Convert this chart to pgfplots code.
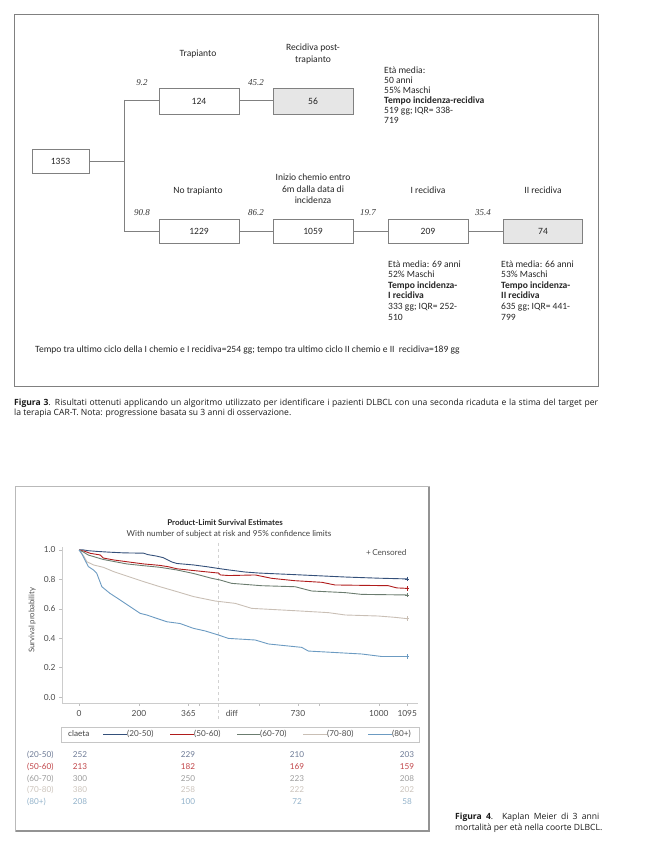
\documentclass[border=0pt]{standalone}
\usepackage{pgfplots}
\pgfplotsset{compat=1.18}
\usepackage{fontspec}
\setmainfont{Carlito}
\newfontfamily\kmf{Lato}
\newfontfamily\capf{Open Sans}
\newfontfamily\serf{Liberation Serif}

\definecolor{cA}{HTML}{34507A}
\definecolor{cB}{HTML}{B01C1C}
\definecolor{cC}{HTML}{6B7C6F}
\definecolor{cD}{HTML}{C9BFB5}
\definecolor{cE}{HTML}{6C9BC2}
\definecolor{tA}{HTML}{6E7B96}
\definecolor{tB}{HTML}{C04448}
\definecolor{tC}{HTML}{9C9C9C}
\definecolor{tD}{HTML}{CCC4BC}
\definecolor{tE}{HTML}{92B2CA}
\definecolor{boxgray}{HTML}{E6E6E6}
\definecolor{edge}{HTML}{808080}

\tikzset{
  bx/.style={draw=edge, line width=0.7bp},
  fc/.style={font=\fontsize{9.6}{11}\selectfont, inner sep=0pt, text=black!85},
  pc/.style={font=\serf\itshape\fontsize{9}{11}\selectfont, inner sep=0pt, text=black!80},
  km/.style={font=\kmf\fontsize{8.2}{10}\selectfont, inner sep=0pt},
  cp/.style={anchor=mid west, inner sep=0pt, font=\capf\fontsize{8.6}{10}\selectfont, text=black!90},
}

\begin{document}
\begin{tikzpicture}[x=1bp,y=1bp]
\path[use as bounding box] (0,0) rectangle (645,857);

\begin{scope}[yshift=857bp, y=-1bp]
% ---- Figura 3: flowchart ----
\draw[edge, line width=0.7bp] (14,14) rectangle (598,386);

\draw[edge, line width=0.7bp] (89,161) -- (124,161);
\draw[edge, line width=0.7bp] (124,100) -- (124,231);
\draw[edge, line width=0.7bp] (124,100) -- (159,100);
\draw[edge, line width=0.7bp] (124,231) -- (159,231);
\draw[edge, line width=0.7bp] (239,100) -- (273,100);
\draw[edge, line width=0.7bp] (239,231) -- (273,231);
\draw[edge, line width=0.7bp] (353,231) -- (388,231);
\draw[edge, line width=0.7bp] (468,231) -- (503,231);

\draw[bx] (32,149) rectangle (89,173);   \node[fc] at (60.5,161) {1353};
\draw[bx] (159,88) rectangle (239,114);  \node[fc] at (199,101) {124};
\draw[bx, fill=boxgray] (273,88) rectangle (353,114); \node[fc] at (313,101) {56};
\draw[bx] (159,219) rectangle (239,243); \node[fc] at (199,231) {1229};
\draw[bx] (273,219) rectangle (353,243); \node[fc] at (313,231) {1059};
\draw[bx] (388,219) rectangle (468,243); \node[fc] at (428,231) {209};
\draw[bx, fill=boxgray] (503,219) rectangle (582,243); \node[fc] at (543,231) {74};

\node[fc, anchor=mid] at (198,54) {Trapianto};
\node[fc, anchor=mid] at (313,48) {Recidiva post-};
\node[fc, anchor=mid] at (313,60) {trapianto};
\node[fc, anchor=mid] at (198,191) {No trapianto};
\node[fc, anchor=mid] at (313,178) {Inizio chemio entro};
\node[fc, anchor=mid] at (313,190) {6m dalla data di};
\node[fc, anchor=mid] at (313,201) {incidenza};
\node[fc, anchor=mid] at (428,191) {I recidiva};
\node[fc, anchor=mid] at (543,191) {II recidiva};

\node[pc, anchor=mid] at (142,83) {9.2};
\node[pc, anchor=mid] at (256,83) {45.2};
\node[pc, anchor=mid] at (142,213) {90.8};
\node[pc, anchor=mid] at (256,213) {86.2};
\node[pc, anchor=mid] at (368,213) {19.7};
\node[pc, anchor=mid] at (483,213) {35.4};

\node[fc, anchor=mid west] at (384,71) {Età media:};
\node[fc, anchor=mid west] at (384,81) {50 anni};
\node[fc, anchor=mid west] at (384,91) {55\% Maschi};
\node[fc, anchor=mid west] at (384,101) {\textbf{Tempo incidenza-recidiva}};
\node[fc, anchor=mid west] at (384,111) {519 gg; IQR= 338-};
\node[fc, anchor=mid west] at (384,121) {719};

\node[fc, anchor=mid west] at (388,265) {Età media: 69 anni};
\node[fc, anchor=mid west] at (388,275) {52\% Maschi};
\node[fc, anchor=mid west] at (388,286) {\textbf{Tempo incidenza-}};
\node[fc, anchor=mid west] at (388,296) {\textbf{I recidiva}};
\node[fc, anchor=mid west] at (388,307) {333 gg; IQR= 252-};
\node[fc, anchor=mid west] at (388,318) {510};

\node[fc, anchor=mid west] at (501,265) {Età media: 66 anni};
\node[fc, anchor=mid west] at (501,275) {53\% Maschi};
\node[fc, anchor=mid west] at (501,286) {\textbf{Tempo incidenza-}};
\node[fc, anchor=mid west] at (501,296) {\textbf{II recidiva}};
\node[fc, anchor=mid west] at (501,307) {635 gg; IQR= 441-};
\node[fc, anchor=mid west] at (501,318) {799};

\node[fc, anchor=mid west] at (35,350) {Tempo tra ultimo ciclo della I chemio e I recidiva=254 gg; tempo tra ultimo ciclo II chemio e II\ \ recidiva=189 gg};

\node[cp] at (14,403)
  {\makebox[584bp][s]{\textbf{Figura 3}. Risultati ottenuti applicando un algoritmo utilizzato per identificare i pazienti DLBCL con una seconda ricaduta e la stima del target per}};
\node[cp] at (14,413)
  {la terapia CAR-T. Nota: progressione basata su 3 anni di osservazione.};

% ---- Figura 4: frame, titles, legend, at-risk table ----
\draw[gray!55, line width=0.6bp] (15,486) rectangle (429,831);
\draw[gray!85, line width=1.2bp] (429,487) -- (429,831) -- (16,831);

\node[km, font=\kmf\bfseries\fontsize{8}{10}\selectfont, text=black!85] at (225,523) {Product-Limit Survival Estimates};
\node[km, text=black!75] at (229,534) {With number of subject at risk and 95\% confidence limits};
\node[km, text=black!70, anchor=mid west] at (366,553) {+\,Censored};

\draw[gray!45, line width=0.6bp] (61,727) rectangle (419,742);
\node[km, text=black!75, anchor=mid west] at (68,734.5) {claeta};
\draw[cA, line width=0.9bp] (103,734.5) -- (127,734.5); \node[km, text=black!70, anchor=mid west] at (127,734.5) {(20-50)};
\draw[cB, line width=0.9bp] (170,734.5) -- (194,734.5); \node[km, text=black!70, anchor=mid west] at (194,734.5) {(50-60)};
\draw[cC, line width=0.9bp] (237,734.5) -- (260,734.5); \node[km, text=black!70, anchor=mid west] at (260,734.5) {(60-70)};
\draw[cD, line width=0.9bp] (303,734.5) -- (327,734.5); \node[km, text=black!70, anchor=mid west] at (327,734.5) {(70-80)};
\draw[cE, line width=0.9bp] (368,734.5) -- (392,734.5); \node[km, text=black!70, anchor=mid west] at (392,734.5) {(80+)};

\node[km, text=tA, anchor=mid west] at (27,755) {(20-50)};
\node[km, text=tB, anchor=mid west] at (27,767) {(50-60)};
\node[km, text=tC, anchor=mid west] at (27,779) {(60-70)};
\node[km, text=tD, anchor=mid west] at (27,790) {(70-80)};
\node[km, text=tE, anchor=mid west] at (27,802) {(80+)};
\foreach \xx/\a/\b/\c/\d/\e in {80/252/213/300/380/208, 188/229/182/250/258/100, 297/210/169/223/222/72, 407/203/159/208/202/58}{
  \node[km, text=tA, anchor=mid] at (\xx,755) {\a};
  \node[km, text=tB, anchor=mid] at (\xx,767) {\b};
  \node[km, text=tC, anchor=mid] at (\xx,779) {\c};
  \node[km, text=tD, anchor=mid] at (\xx,790) {\d};
  \node[km, text=tE, anchor=mid] at (\xx,802) {\e};
}

\node[cp] at (455,817) {\makebox[144bp][s]{\textbf{Figura 4}. Kaplan Meier di 3 anni}};
\node[cp] at (455,828) {mortalità per età nella coorte DLBCL.};
\end{scope}

% ---- Kaplan-Meier axis ----
\begin{axis}[
  at={(62bp,154bp)}, anchor=south west,
  scale only axis, width=356bp, height=156bp,
  xmin=-57, xmax=1131, ymin=-0.04, ymax=1.02,
  axis x line=bottom, axis y line=left,
  axis line style={-, draw=gray!40, line width=0.6bp},
  tick align=outside, major tick length=3bp,
  tick style={draw=gray!50, line width=0.5bp},
  xtick={0,200,365,400,600,730,800,1000,1095},
  xticklabels={0,200,365,{},{},730,{},1000,1095},
  extra x ticks={510}, extra x tick labels={diff},
  extra x tick style={tick style={draw=none}},
  ytick={0,0.2,0.4,0.6,0.8,1.0},
  /pgf/number format/.cd, fixed, fixed zerofill, precision=1, assume math mode=true,
  /pgfplots/.cd,
  ticklabel style={font=\kmf\fontsize{8.4}{10}\selectfont, text=black!70},
  xticklabel style={yshift=-1bp},
  ylabel={Survival probability},
  ylabel style={font=\kmf\fontsize{7.8}{9}\selectfont, text=black!70, at={(axis description cs:-0.084,0.53)}, anchor=center},
  clip=false,
]
\draw[gray!35, dashed, line width=0.5bp] (axis cs:465,1.05) -- (axis cs:465,-0.16);

\addplot[cA, line width=0.9bp] coordinates {
(0,1.0) (15,1.0) (30,0.995) (60,0.99) (100,0.985) (150,0.98) (215,0.978) (230,0.968)
(259,0.958) (280,0.948) (293,0.935) (310,0.918) (326,0.908) (382,0.898) (430,0.885)
(465,0.874) (500,0.864) (554,0.85) (600,0.843) (721,0.832) (888,0.816) (1000,0.808) (1095,0.803)};
\addplot[cB, line width=0.9bp] coordinates {
(0,1.0) (20,0.99) (37,0.977) (70,0.966) (81,0.945) (115,0.932) (159,0.92) (215,0.905)
(270,0.895) (300,0.885) (326,0.872) (382,0.86) (440,0.848) (465,0.843) (472,0.83)
(500,0.826) (588,0.83) (643,0.807) (720,0.791) (810,0.78) (854,0.762) (1032,0.757)
(1060,0.742) (1095,0.739)};
\addplot[cC, line width=0.9bp] coordinates {
(0,1.0) (15,0.985) (31,0.965) (48,0.955) (81,0.935) (120,0.92) (159,0.905) (215,0.893)
(270,0.882) (326,0.864) (382,0.84) (443,0.807) (470,0.796) (509,0.773) (609,0.757)
(721,0.75) (776,0.721) (888,0.71) (943,0.698) (1095,0.694)};
\addplot[cD, line width=0.9bp] coordinates {
(0,1.0) (15,0.96) (26,0.92) (48,0.898) (81,0.882) (115,0.853) (159,0.823) (215,0.785)
(270,0.75) (326,0.717) (382,0.683) (454,0.653) (521,0.637) (576,0.603) (721,0.587)
(832,0.574) (888,0.558) (999,0.551) (1054,0.542) (1095,0.533)};
\addplot[cE, line width=0.9bp] coordinates {
(0,1.0) (10,0.97) (20,0.93) (31,0.887) (48,0.864) (59,0.841) (76,0.75) (103,0.705)
(137,0.66) (170,0.615) (204,0.569) (226,0.558) (259,0.535) (293,0.512) (337,0.5)
(382,0.467) (420,0.45) (465,0.422) (498,0.399) (588,0.388) (632,0.361) (743,0.338)
(765,0.313) (943,0.293) (1010,0.276) (1095,0.276)};

\addplot[only marks, mark=+, mark size=2.2bp, cA, line width=0.6bp] coordinates {(1095,0.803)};
\addplot[only marks, mark=+, mark size=2.2bp, cB, line width=0.6bp] coordinates {(1095,0.739)};
\addplot[only marks, mark=+, mark size=2.2bp, cC, line width=0.6bp] coordinates {(1095,0.694)};
\addplot[only marks, mark=+, mark size=2.2bp, cD, line width=0.6bp] coordinates {(1095,0.533)};
\addplot[only marks, mark=+, mark size=2.2bp, cE, line width=0.6bp] coordinates {(1095,0.276)};
\end{axis}
\end{tikzpicture}
\end{document}
